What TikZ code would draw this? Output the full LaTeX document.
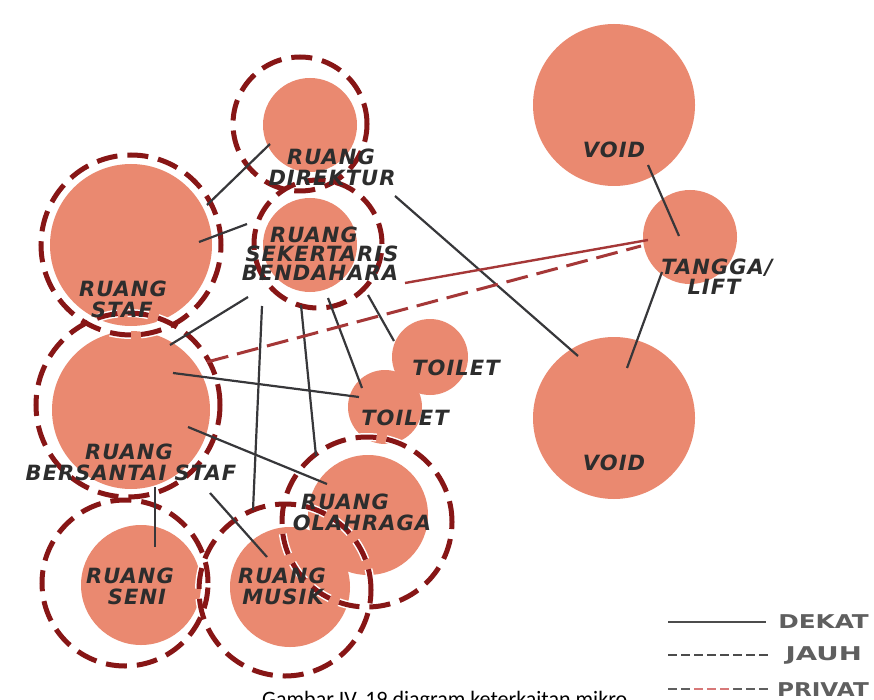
\documentclass[tikz,border=0pt]{standalone}
\usepackage{fontspec}
\usetikzlibrary{calc}
\newfontfamily\labfont[LetterSpace=5]{DejaVu Sans}
\newfontfamily\legfont{DejaVu Sans}
\newfontfamily\capfont{Carlito}
\definecolor{roomfill}{RGB}{234,137,112}
\definecolor{ringred}{RGB}{135,22,22}
\definecolor{linegray}{RGB}{55,55,58}
\definecolor{privred}{RGB}{165,55,55}
\definecolor{privpink}{RGB}{215,120,120}
\definecolor{labgray}{RGB}{45,45,45}
\definecolor{leggray}{RGB}{95,95,95}
\begin{document}
\begin{tikzpicture}[x=1pt,y=-1pt,
  room/.style={circle, fill=roomfill, inner sep=0pt, minimum size=#1},
  ringhalo/.style={circle, draw=white, line width=8pt, dash pattern=on 21pt off 10pt, inner sep=0pt, minimum size=#1},
  ringdash/.style={circle, draw=ringred, line width=5pt, dash pattern=on 21pt off 10pt, inner sep=0pt, minimum size=#1},
  dekat/.style={draw=linegray, line width=2.2pt},
  privline/.style={draw=privred, line width=2.4pt},
  jauhline/.style={draw=privred, line width=3pt, dash pattern=on 22pt off 9pt},
  lab/.style={font=\labfont\bfseries\itshape\fontsize{21}{24}\selectfont, text=labgray, inner sep=0pt},
  leg/.style={font=\legfont\bfseries\fontsize{19}{21}\selectfont, text=leggray, inner sep=0pt, anchor=east}
]
\useasboundingbox (0,0) rectangle (874,700);
\clip (0,0) rectangle (874,700);
\fill[white] (0,0) rectangle (874,700);

% rooms
\node[room=94pt]  (dir)    at (310,125) {};
\node[room=94pt]  (sek)    at (310,245) {};
\node[room=162pt] (staf)   at (131,245) {};
\node[room=158pt] (bers)   at (131,410) {};
\node[room=120pt] (seni)   at (141,585) {};
\node[room=120pt] (musik)  at (290,587) {};
\node[room=120pt] (olah)   at (368,515) {};
\node[room=76pt]  (toia)   at (430,357) {};
\node[room=74pt]  (toib)   at (385,407) {};
\node[room=162pt] (voida)  at (614,105) {};
\node[room=94pt]  (tangga) at (690,237) {};
\node[room=162pt] (voidb)  at (614,418) {};

% private rings
\foreach \n/\p/\d in {rdir/{(300,124)}/134pt, rstaf/{(131,245)}/180pt, rsek/{(318,244)}/128pt,
  rbers/{(128,405)}/184pt, rseni/{(125,583)}/166pt, rmus/{(285,590)}/172pt, rola/{(367,522)}/170pt}
  {\node[ringhalo=\d] (\n h) at \p {};}
\foreach \n/\p/\d in {rdir/{(300,124)}/134pt, rstaf/{(131,245)}/180pt, rsek/{(318,244)}/128pt,
  rbers/{(128,405)}/184pt, rseni/{(125,583)}/166pt, rmus/{(285,590)}/172pt, rola/{(367,522)}/170pt}
  {\node[ringdash=\d] (\n) at \p {};}

% connector end points
\coordinate (a1) at (207,205); \coordinate (b1) at (270,144);
\coordinate (a2) at (199,242); \coordinate (b2) at (247,224);
\coordinate (a3) at (395,196); \coordinate (b3) at (578,356);
\coordinate (a4) at (648,165); \coordinate (b4) at (679,236);
\coordinate (a5) at (662,272); \coordinate (b5) at (627,368);
\coordinate (a6) at (248,297); \coordinate (b6) at (170,345);
\coordinate (a7) at (262,306); \coordinate (b7) at (253,510);
\coordinate (a8) at (301,305); \coordinate (b8) at (316,456);
\coordinate (a9) at (328,298); \coordinate (b9) at (362,388);
\coordinate (a10) at (368,295); \coordinate (b10) at (394,341);
\coordinate (a11) at (173,373); \coordinate (b11) at (359,397);
\coordinate (a12) at (188,427); \coordinate (b12) at (327,484);
\coordinate (a13) at (155,487); \coordinate (b13) at (155,547);
\coordinate (a14) at (210,493); \coordinate (b14) at (267,557);
\coordinate (a15) at (405,283); \coordinate (b15) at (648,240);
\coordinate (a16) at (207,362); \coordinate (b16) at (641,246);

\foreach \i in {1,...,14} {\draw[dekat] (a\i) -- (b\i);}
\draw[privline] (a15) -- (b15);
\draw[jauhline] (a16) -- (b16);

% labels
\node[lab] (tdir1) at (331,157) {RUANG};
\node[lab] (tdir2) at (332,178) {DIREKTUR};
\node[lab] (tsek1) at (314,235) {RUANG};
\node[lab] (tsek2) at (322,254) {SEKERTARIS};
\node[lab] (tsek3) at (320,273) {BENDAHARA};
\node[lab] (tstaf1) at (123,289) {RUANG};
\node[lab] (tstaf2) at (122,310) {STAF};
\node[lab] (tbers1) at (129,452) {RUANG};
\node[lab] (tbers2) at (131,473) {BERSANTAI STAF};
\node[lab] (tseni1) at (130,576) {RUANG};
\node[lab] (tseni2) at (137,597) {SENI};
\node[lab] (tmus1) at (282,576) {RUANG};
\node[lab] (tmus2) at (283,597) {MUSIK};
\node[lab] (tola1) at (345,502) {RUANG};
\node[lab] (tola2) at (362,523) {OLAHRAGA};
\node[lab] (ttoa) at (456,368) {TOILET};
\node[lab] (ttob) at (405,418) {TOILET};
\node[lab] (tvoa) at (614,150) {VOID};
\node[lab] (tvob) at (614,463) {VOID};
\node[lab] (ttan1) at (717,268) {TANGGA/};
\node[lab] (ttan2) at (714,287) {LIFT};

% legend
\coordinate (lg1a) at (668,622); \coordinate (lg1b) at (766,622);
\coordinate (lg2a) at (668,655); \coordinate (lg2b) at (770,655);
\coordinate (lg3a) at (668,689); \coordinate (lg3b) at (768,689);
\coordinate (lg3c) at (694,689); \coordinate (lg3d) at (733,689);
\draw[draw=leggray!80!black, line width=2.4pt] (lg1a) -- (lg1b);
\draw[draw=leggray!80!black, line width=2.4pt, dash pattern=on 9pt off 4pt] (lg2a) -- (lg2b);
\draw[draw=leggray, line width=2.4pt, dash pattern=on 9pt off 4pt] (lg3a) -- (lg3b);
\draw[draw=privpink, line width=2.4pt, dash pattern=on 9pt off 4pt] (lg3c) -- (lg3d);
\node[leg] (ldek) at (869,622) {\scalebox{1.3}[1]{DEKAT}};
\node[leg] (ljau) at (862,655) {\scalebox{1.45}[1]{JAUH}};
\node[leg] (lpri) at (869,690) {\scalebox{1.22}[1]{PRIVAT}};

% caption (cut by the frame)
\node[font=\capfont\fontsize{22}{24}\selectfont, anchor=base west, inner sep=0pt] (cap) at (262,706) {Gambar IV. 19 diagram keterkaitan mikro};
\end{tikzpicture}
\end{document}
